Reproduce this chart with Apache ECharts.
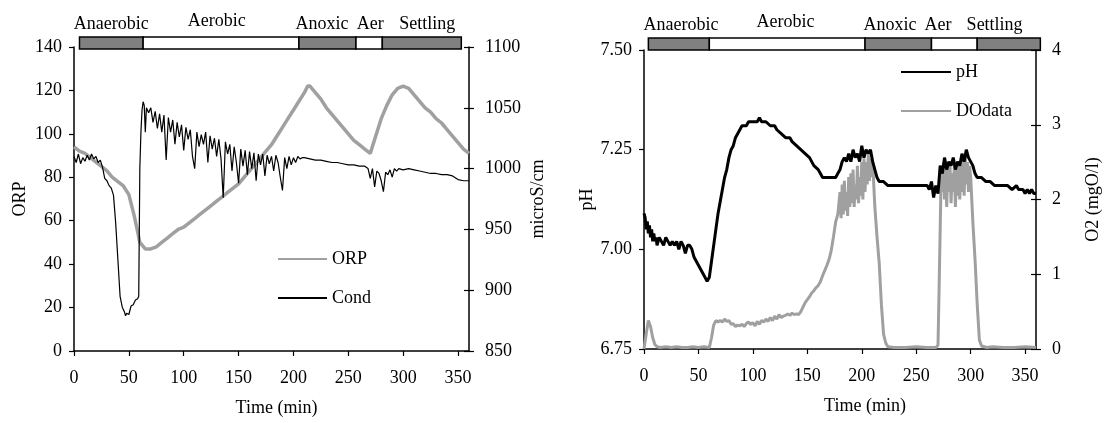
<!DOCTYPE html>
<html>
<head>
<meta charset="utf-8">
<script src="https://cdn.jsdelivr.net/npm/echarts@6/dist/echarts.min.js"></script>
<style>
html, body { margin: 0; padding: 0; background: #fff; }
#chart { width: 1106px; height: 423px; }
</style>
</head>
<body>
<div id="chart"></div>
<script>
// phases of the cycle (minutes), as drawn over each panel
const phaseNames = ['Anaerobic', 'Aerobic', 'Anoxic', 'Aer', 'Settling'];
const phaseEdgesLeft = [5, 63, 205, 257, 281, 353];
const phaseEdgesRight = [4, 60, 203, 264, 306, 364];
const phaseLabelTime = [34, 130, 226, 270, 322];

// left panel: ORP (mV) and conductivity (microS/cm) vs time (min)
const orpData = [
  [0, 94], [5, 92], [10, 91], [15, 89], [20, 87], [25, 85], [30, 83], [35, 80], [40, 78], [45, 76],
  [50, 72], [55, 62], [58, 55], [60, 50], [65, 47], [70, 47], [75, 48], [80, 50], [85, 52], [90, 54],
  [95, 56], [100, 57], [105, 59], [110, 61], [115, 63], [120, 65], [125, 67], [130, 69], [135, 71],
  [140, 73], [145, 75], [150, 77], [155, 80], [160, 83], [165, 86], [170, 89], [175, 92], [180, 95],
  [185, 99], [190, 103], [195, 107], [200, 111], [205, 115], [210, 119], [213, 122], [215, 122],
  [220, 119], [225, 116], [230, 112], [235, 109], [240, 106], [245, 103], [250, 100], [255, 97],
  [260, 95], [265, 93], [270, 91], [275, 99], [280, 107], [285, 113], [290, 118], [295, 121],
  [300, 122], [305, 121], [310, 118], [315, 115], [320, 112], [325, 110], [330, 107], [335, 105],
  [340, 102], [345, 99], [350, 96], [355, 93], [360, 91]
];
const condData = [
  [0, 1010], [2, 1005], [4, 1012], [6, 1004], [8, 1009], [10, 1006], [12, 1011], [14, 1007],
  [16, 1012], [18, 1008], [20, 1010], [22, 1005], [24, 1007], [26, 1001], [28, 992], [30, 990],
  [32, 986], [34, 984], [36, 978], [38, 955], [40, 925], [42, 895], [44, 886], [46, 882], [47, 879],
  [48, 881], [50, 880], [52, 887], [54, 888], [56, 892], [58, 893], [59, 895], [60, 1000], [61, 1030],
  [62, 1048], [63, 1055], [64, 1052], [65, 1030], [66, 1050], [68, 1046], [70, 1050], [72, 1038],
  [74, 1047], [76, 1033], [78, 1045], [80, 1030], [82, 1044], [84, 1007], [86, 1042], [88, 1030],
  [90, 1040], [92, 1020], [94, 1038], [96, 1026], [98, 1036], [100, 1015], [102, 1034], [104, 1024],
  [106, 1032], [108, 1010], [110, 1000], [112, 1030], [114, 1018], [116, 1028], [118, 1020],
  [120, 1030], [122, 1005], [124, 1027], [126, 1016], [128, 1025], [130, 1010], [132, 1024],
  [134, 1008], [136, 976], [138, 1022], [140, 1012], [142, 1020], [144, 998], [146, 1018],
  [148, 1005], [150, 988], [152, 1016], [154, 1002], [156, 1015], [158, 995], [160, 1014],
  [162, 1000], [164, 1013], [166, 990], [168, 1012], [170, 1003], [172, 1012], [174, 994],
  [176, 1011], [178, 1004], [180, 1010], [182, 998], [184, 1011], [186, 1005], [188, 993],
  [190, 982], [192, 1009], [194, 1000], [196, 1010], [198, 1003], [200, 1009], [202, 1005],
  [204, 1010], [206, 1008], [208, 1009], [210, 1009], [215, 1008], [220, 1007], [225, 1007],
  [230, 1006], [235, 1005], [240, 1005], [245, 1004], [250, 1003], [255, 1003], [260, 1002],
  [265, 1002], [268, 1000], [270, 992], [272, 1000], [274, 985], [276, 998], [278, 996], [280, 990],
  [282, 981], [284, 997], [286, 995], [288, 999], [290, 993], [292, 1000], [294, 998], [296, 1000],
  [300, 999], [305, 1000], [310, 999], [315, 998], [320, 997], [325, 996], [330, 996], [335, 995],
  [340, 995], [345, 994], [350, 991], [355, 990], [360, 990]
];

// right panel: pH and dissolved oxygen (mgO/l) vs time (min)
const phData = [
  [0, 7.09], [1, 7.08], [2, 7.05], [3, 7.07], [4, 7.04], [5, 7.06], [6, 7.03], [7, 7.05], [8, 7.02],
  [9, 7.04], [10, 7.02], [11, 7.03], [12, 7.01], [14, 7.03], [16, 7.02], [18, 7.01], [20, 7.03],
  [22, 7.02], [24, 7.01], [26, 7.02], [28, 7.01], [30, 7.02], [32, 7.00], [34, 7.02], [36, 7.01],
  [38, 6.99], [40, 7.01], [42, 7.01], [44, 7.00], [46, 6.98], [48, 6.97], [50, 6.96], [52, 6.95],
  [54, 6.94], [56, 6.93], [58, 6.92], [60, 6.93], [62, 6.97], [64, 7.01], [66, 7.05], [68, 7.09],
  [70, 7.12], [72, 7.15], [74, 7.18], [76, 7.20], [78, 7.23], [80, 7.25], [82, 7.26], [84, 7.28],
  [86, 7.29], [88, 7.30], [90, 7.31], [94, 7.31], [96, 7.32], [100, 7.32], [104, 7.32], [106, 7.33],
  [108, 7.32], [112, 7.32], [116, 7.31], [120, 7.31], [122, 7.30], [126, 7.29], [130, 7.28],
  [134, 7.28], [136, 7.27], [140, 7.26], [144, 7.25], [148, 7.24], [152, 7.23], [156, 7.21],
  [160, 7.20], [162, 7.19], [164, 7.18], [176, 7.18], [178, 7.19], [180, 7.20], [182, 7.22],
  [184, 7.23], [186, 7.22], [188, 7.24], [190, 7.22], [192, 7.25], [194, 7.23], [196, 7.24],
  [198, 7.22], [200, 7.26], [202, 7.23], [204, 7.25], [206, 7.24], [208, 7.25], [210, 7.22],
  [212, 7.20], [214, 7.18], [216, 7.17], [220, 7.17], [224, 7.16], [260, 7.16], [262, 7.15],
  [264, 7.17], [266, 7.13], [268, 7.16], [270, 7.14], [272, 7.21], [274, 7.19], [276, 7.23],
  [278, 7.20], [280, 7.22], [282, 7.21], [284, 7.23], [286, 7.20], [288, 7.22], [290, 7.21],
  [292, 7.24], [294, 7.22], [296, 7.25], [298, 7.23], [300, 7.22], [302, 7.21], [304, 7.19],
  [306, 7.18], [310, 7.18], [314, 7.17], [318, 7.17], [322, 7.16], [326, 7.16], [330, 7.16],
  [334, 7.16], [338, 7.15], [342, 7.16], [344, 7.15], [348, 7.15], [350, 7.14], [352, 7.15],
  [354, 7.14], [356, 7.15], [358, 7.14], [360, 7.14]
];
const doData = [
  [0, 0.0], [2, 0.2], [4, 0.38], [6, 0.3], [8, 0.15], [10, 0.06], [12, 0.03], [15, 0.02], [20, 0.03],
  [25, 0.02], [30, 0.03], [35, 0.02], [40, 0.02], [45, 0.03], [50, 0.02], [55, 0.03], [60, 0.02],
  [62, 0.15], [64, 0.32], [66, 0.38], [68, 0.36], [70, 0.38], [72, 0.36], [74, 0.4], [76, 0.37],
  [78, 0.38], [80, 0.33], [82, 0.34], [84, 0.3], [86, 0.32], [88, 0.31], [90, 0.33], [92, 0.3],
  [94, 0.34], [96, 0.36], [98, 0.33], [100, 0.35], [102, 0.31], [104, 0.37], [106, 0.33], [108, 0.38],
  [110, 0.36], [112, 0.4], [114, 0.37], [116, 0.42], [118, 0.38], [120, 0.44], [122, 0.4], [124, 0.46],
  [126, 0.42], [128, 0.44], [130, 0.45], [132, 0.47], [134, 0.45], [136, 0.48], [138, 0.46],
  [140, 0.47], [142, 0.46], [144, 0.5], [146, 0.56], [148, 0.62], [150, 0.66], [152, 0.7], [154, 0.75],
  [156, 0.78], [158, 0.82], [160, 0.85], [162, 0.9], [164, 0.98], [166, 1.05], [168, 1.12], [170, 1.2],
  [172, 1.32], [174, 1.5], [176, 1.7], [178, 1.8], [180, 2.1], [181, 1.75], [182, 2.2], [183, 1.8],
  [184, 2.25], [185, 1.85], [186, 2.1], [187, 1.78], [188, 2.3], [189, 1.9], [190, 2.35], [191, 1.95],
  [192, 2.4], [193, 1.9], [194, 2.2], [195, 2.0], [196, 2.45], [197, 1.95], [198, 2.3], [199, 2.05],
  [200, 2.5], [201, 2.0], [202, 2.55], [203, 2.1], [204, 2.5], [205, 2.2], [206, 2.6], [207, 2.25],
  [208, 2.55], [209, 2.3], [210, 2.5], [212, 1.9], [214, 1.5], [216, 1.15], [218, 0.6], [220, 0.2],
  [222, 0.08], [224, 0.03], [230, 0.02], [240, 0.02], [250, 0.03], [260, 0.02], [268, 0.02],
  [270, 0.05], [271, 0.8], [272, 1.6], [273, 2.4], [274, 2.1], [275, 2.5], [276, 2.0], [277, 2.45],
  [278, 1.9], [279, 2.4], [280, 2.1], [281, 2.5], [282, 1.95], [283, 2.35], [284, 2.1], [285, 2.45],
  [286, 1.9], [287, 2.4], [288, 2.05], [289, 2.5], [290, 2.0], [291, 2.45], [292, 2.1], [293, 2.55],
  [294, 2.05], [295, 2.6], [296, 2.2], [297, 2.5], [298, 2.1], [299, 2.45], [300, 2.3], [302, 1.7],
  [304, 1.2], [306, 0.6], [308, 0.12], [310, 0.04], [315, 0.02], [320, 0.03], [330, 0.02],
  [340, 0.02], [350, 0.03], [360, 0.02]
];

const FONT = 'Liberation Serif';
const GRAY = '#a0a0a0';
const txt = { color: '#000', fontFamily: FONT, fontSize: 18 };
const darkPhases = ['Anaerobic', 'Anoxic', 'Settling'];
const labelLift = { Aerobic: 3 };

const gridLeft = { left: 74, top: 47, width: 395, height: 304 };
const gridRight = { left: 644, top: 50, width: 392, height: 299 };

function xAxisMain(grid, pad) {
  return {
    type: 'value', gridIndex: grid, min: 0, max: 360, interval: 50,
    name: 'Time (min)', nameLocation: 'middle', nameGap: 48,
    nameTextStyle: Object.assign({ padding: [0, 0, 0, pad] }, txt),
    axisLine: { onZero: false, lineStyle: { color: '#000', width: 1.5 } },
    axisTick: { length: 5, lineStyle: { color: '#000', width: 1.2 } },
    axisLabel: Object.assign({ margin: 18, showMaxLabel: false }, txt),
    splitLine: { show: false }
  };
}

function yAxis(grid, pos, min, max, step, name, gap, fmt) {
  return {
    type: 'value', gridIndex: grid, position: pos, min: min, max: max, interval: step,
    name: name, nameLocation: 'middle', nameGap: gap, nameRotate: 90, nameTextStyle: txt,
    axisLine: { show: true, onZero: false, lineStyle: { color: '#000', width: 1.5 } },
    axisTick: { show: true, length: 5, lineStyle: { color: '#000', width: 1.2 } },
    axisLabel: Object.assign({ margin: pos === 'left' ? 12 : 16, formatter: fmt || ((v) => String(v)) }, txt),
    splitLine: { show: false }
  };
}

// inner half of the cross ticks on the right-hand axes (own overlaid grid)
function innerTicks(grid, min, max, step) {
  return {
    type: 'value', gridIndex: grid, position: 'right', min: min, max: max, interval: step,
    axisLine: { show: false, onZero: false },
    axisTick: { show: true, inside: true, length: 5, lineStyle: { color: '#000', width: 1.2 } },
    axisLabel: { show: false }, splitLine: { show: false }
  };
}

function phaseSeries(xi, yi, edges) {
  return {
    type: 'custom', xAxisIndex: xi, yAxisIndex: yi, clip: false, silent: true,
    data: phaseNames.map((n, i) => [edges[i], edges[i + 1], phaseLabelTime[i], i]),
    renderItem: function (params, api) {
      const a = api.coord([api.value(0), 0]);
      const b = api.coord([api.value(1), 1]);
      const t = api.coord([api.value(2), 1]);
      const name = phaseNames[api.value(3)];
      return {
        type: 'group',
        children: [
          {
            type: 'rect',
            shape: { x: a[0], y: b[1], width: b[0] - a[0], height: a[1] - b[1] },
            style: { fill: darkPhases.includes(name) ? '#808080' : '#fff', stroke: '#000', lineWidth: 1.5 }
          },
          {
            type: 'text',
            style: {
              text: name, x: t[0], y: b[1] - 4 - (labelLift[name] || 0),
              align: 'center', verticalAlign: 'bottom',
              font: '18px "' + FONT + '"', fill: '#000'
            }
          }
        ]
      };
    }
  };
}

const hiddenX = (grid) => ({ type: 'value', gridIndex: grid, min: 0, max: 360, show: false });
const hiddenY = (grid) => ({ type: 'value', gridIndex: grid, min: 0, max: 1, show: false });

const chart = echarts.init(document.getElementById('chart'));
chart.setOption({
  animation: false,
  backgroundColor: '#fff',
  grid: [
    gridLeft,
    gridRight,
    { left: 74, top: 37, width: 395, height: 12 },
    { left: 644, top: 38, width: 392, height: 12 },
    gridLeft,
    gridRight
  ],
  legend: [
    {
      data: ['ORP', 'Cond'], orient: 'vertical', left: 277, top: 250, padding: 0,
      itemWidth: 49, itemHeight: 14, itemGap: 21, textStyle: txt,
      itemStyle: { opacity: 0 }
    },
    {
      data: ['pH', 'DOdata'], orient: 'vertical', left: 900, top: 63, padding: 0,
      itemWidth: 50, itemHeight: 14, itemGap: 21, textStyle: txt,
      itemStyle: { opacity: 0 }
    }
  ],
  xAxis: [xAxisMain(0, 10), xAxisMain(1, 50), hiddenX(2), hiddenX(3), hiddenX(4), hiddenX(5)],
  yAxis: [
    yAxis(0, 'left', 0, 140, 20, 'ORP', 45),
    yAxis(0, 'right', 850, 1100, 50, 'microS/cm', 60),
    innerTicks(4, 850, 1100, 50),
    yAxis(1, 'left', 6.75, 7.5, 0.25, 'pH', 44, (v) => v.toFixed(2)),
    yAxis(1, 'right', 0, 4, 1, 'O2 (mgO/l)', 48),
    innerTicks(5, 0, 4, 1),
    hiddenY(2),
    hiddenY(3)
  ],
  series: [
    {
      name: 'ORP', type: 'line', xAxisIndex: 0, yAxisIndex: 0, data: orpData,
      symbol: 'none', clip: false, lineStyle: { color: GRAY, width: 3.5 }, itemStyle: { color: GRAY }
    },
    {
      name: 'Cond', type: 'line', xAxisIndex: 0, yAxisIndex: 1, data: condData,
      symbol: 'none', clip: false, lineStyle: { color: '#000', width: 1.2 }, itemStyle: { color: '#000' }
    },
    {
      name: 'DOdata', type: 'line', xAxisIndex: 1, yAxisIndex: 4, data: doData,
      symbol: 'none', clip: false, lineStyle: { color: GRAY, width: 3 }, itemStyle: { color: GRAY }
    },
    {
      name: 'pH', type: 'line', xAxisIndex: 1, yAxisIndex: 3, data: phData,
      symbol: 'none', clip: false, lineStyle: { color: '#000', width: 3 }, itemStyle: { color: '#000' }
    },
    phaseSeries(2, 6, phaseEdgesLeft),
    phaseSeries(3, 7, phaseEdgesRight)
  ]
});
</script>
</body>
</html>
